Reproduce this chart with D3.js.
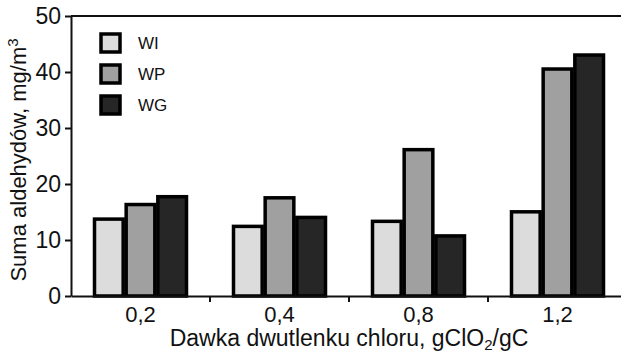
<!DOCTYPE html>
<html>
<head>
<meta charset="utf-8">
<script src="https://cdn.jsdelivr.net/npm/d3@7"></script>
<style>
  body { margin: 0; background: #fff; }
  text { font-family: Arial, "Liberation Sans", sans-serif; fill: #111; }
</style>
</head>
<body>
<script>
var categories = ["0,2", "0,4", "0,8", "1,2"];
var seriesNames = ["WI", "WP", "WG"];
var wiValues = [14.0, 12.7, 13.6, 15.3];
var wpValues = [16.6, 17.8, 26.4, 40.8];
var wgValues = [18.0, 14.3, 11.0, 43.3];
var yTicks = [0, 10, 20, 30, 40, 50];

var colors = {WI: "#dcdcdc", WP: "#a0a0a0", WG: "#262626"};

var width = 621, height = 353;
var margin = {top: 16, right: -6, bottom: 57, left: 71};

var data = categories.map(function(c, i) {
    return {cat: c, WI: wiValues[i], WP: wpValues[i], WG: wgValues[i]};
});

var svg = d3.select("body").append("svg")
    .attr("width", width)
    .attr("height", height);

var x = d3.scaleBand()
    .domain(categories)
    .range([margin.left, width - margin.right])
    .paddingInner(0)
    .paddingOuter(0);

var xInner = d3.scaleBand()
    .domain(seriesNames)
    .range([0, 95]);

var y = d3.scaleLinear()
    .domain([0, 50])
    .range([height - margin.bottom, margin.top]);

// top frame line
svg.append("line")
    .attr("x1", margin.left).attr("x2", width)
    .attr("y1", y(50)).attr("y2", y(50))
    .attr("stroke", "#111").attr("stroke-width", 2);

// bars
var groups = svg.selectAll("g.group")
    .data(data)
    .enter().append("g")
    .attr("class", "group")
    .attr("transform", function(d) { return "translate(" + (x(d.cat) + x.bandwidth() / 2 - 47.5) + ",0)"; });

groups.selectAll("rect")
    .data(function(d) { return seriesNames.map(function(s) { return {key: s, value: d[s]}; }); })
    .enter().append("rect")
    .attr("x", function(d) { return xInner(d.key) + 1.5; })
    .attr("y", function(d) { return y(d.value) + 1.5; })
    .attr("width", xInner.bandwidth() - 3)
    .attr("height", function(d) { return y(0) - y(d.value) - 1.5; })
    .attr("fill", function(d) { return colors[d.key]; })
    .attr("stroke", "#000")
    .attr("stroke-width", 3.5);

// y axis
var yAxis = svg.append("g")
    .attr("transform", "translate(" + margin.left + ",0)")
    .call(d3.axisLeft(y).tickValues(yTicks).tickSize(6).tickPadding(4).tickSizeOuter(0));
yAxis.select(".domain").attr("stroke", "#111").attr("stroke-width", 2);
yAxis.selectAll(".tick line").attr("stroke", "#111").attr("stroke-width", 2);
yAxis.selectAll(".tick text").attr("font-size", 23).attr("font-family", "Arial, 'Liberation Sans', sans-serif").attr("fill", "#111");

// x axis
var xAxis = svg.append("g")
    .attr("transform", "translate(0," + y(0) + ")")
    .call(d3.axisBottom(x).tickSize(0).tickPadding(10).tickSizeOuter(0));
xAxis.select(".domain").attr("stroke", "#111").attr("stroke-width", 2);
xAxis.selectAll(".tick text").attr("font-size", 22).attr("font-family", "Arial, 'Liberation Sans', sans-serif").attr("fill", "#111");

// separator ticks between groups
svg.selectAll("line.sep")
    .data(categories.slice(1))
    .enter().append("line")
    .attr("class", "sep")
    .attr("x1", function(d) { return x(d); })
    .attr("x2", function(d) { return x(d); })
    .attr("y1", y(0))
    .attr("y2", y(0) + 6)
    .attr("stroke", "#111")
    .attr("stroke-width", 2);

// axis titles
svg.append("text")
    .attr("transform", "translate(26," + ((y(0) + y(50)) / 2 + 4) + ") rotate(-90)")
    .attr("text-anchor", "middle")
    .attr("font-size", 22)
    .html('Suma aldehydów, mg/m<tspan dy="-8" font-size="15">3</tspan>');

svg.append("text")
    .attr("x", 349)
    .attr("y", 346)
    .attr("text-anchor", "middle")
    .attr("font-size", 23)
    .html('Dawka dwutlenku chloru, gClO<tspan dy="4" font-size="15">2</tspan><tspan dy="-4">/gC</tspan>');

// legend
var legend = svg.selectAll("g.legend")
    .data(seriesNames)
    .enter().append("g")
    .attr("class", "legend")
    .attr("transform", function(d, i) { return "translate(101," + (34 + i * 31) + ")"; });

legend.append("rect")
    .attr("width", 19)
    .attr("height", 18)
    .attr("fill", function(d) { return colors[d]; })
    .attr("stroke", "#000")
    .attr("stroke-width", 3.5);

legend.append("text")
    .attr("x", 37)
    .attr("y", 15)
    .attr("font-size", 17)
    .text(function(d) { return d; });
</script>
</body>
</html>
